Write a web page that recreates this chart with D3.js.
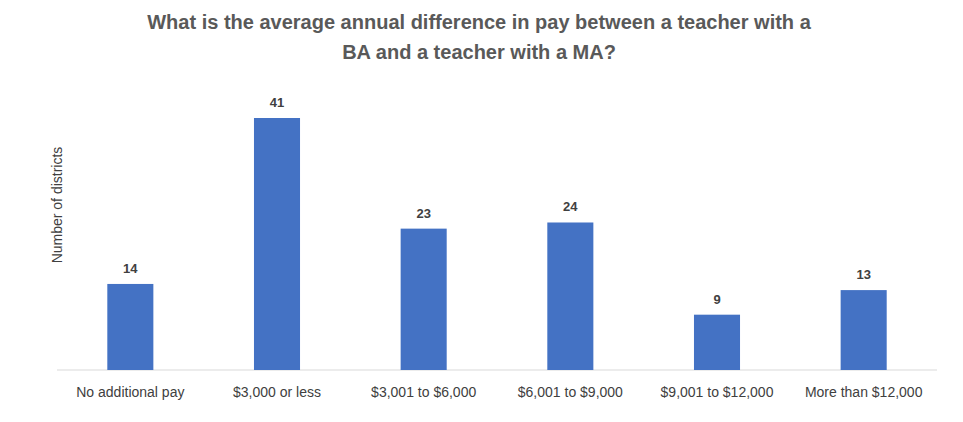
<!DOCTYPE html>
<html><head><meta charset="utf-8">
<script src="https://d3js.org/d3.v7.min.js"></script>
<style>body{margin:0;background:#fff}</style>
</head><body>
<script>
const categories = ["No additional pay","$3,000 or less","$3,001 to $6,000","$6,001 to $9,000","$9,001 to $12,000","More than $12,000"];
const values = [14,41,23,24,9,13];
const titleLines = ["What is the average annual difference in pay between a teacher with a","BA and a teacher with a MA?"];
const yLabel = "Number of districts";

const W=963,H=422;
const svg=d3.select("body").append("svg").attr("width",W).attr("height",H);
const font="'Liberation Sans', Arial, sans-serif";
const x=d3.scaleBand().domain(categories).range([57,937]).paddingInner(0.686).paddingOuter(0.343);
const y=d3.scaleLinear().domain([0,41]).range([370,118]);

svg.selectAll("text.title").data(titleLines).join("text")
  .attr("x",479).attr("y",(d,i)=>29+i*30).attr("text-anchor","middle")
  .attr("font-family",font).attr("font-weight","bold").attr("font-size",20).attr("fill","#595959").text(d=>d);

svg.append("line").attr("x1",57).attr("x2",937).attr("y1",y(0)).attr("y2",y(0)).attr("stroke","#d9d9d9");

svg.selectAll("rect").data(values).join("rect")
  .attr("x",(d,i)=>x(categories[i])).attr("width",x.bandwidth())
  .attr("y",d=>y(d)).attr("height",d=>y(0)-y(d)).attr("fill","#4472c4");

svg.selectAll("text.val").data(values).join("text")
  .attr("x",(d,i)=>x(categories[i])+x.bandwidth()/2).attr("y",d=>y(d)-11)
  .attr("text-anchor","middle").attr("font-family",font).attr("font-weight","bold")
  .attr("font-size",13).attr("fill","#404040").text(d=>d);

const ax=svg.append("g").attr("transform",`translate(0,${y(0)})`).call(d3.axisBottom(x).tickSize(0).tickPadding(17));
ax.select(".domain").remove();
ax.selectAll("text").attr("font-family",font).attr("font-size",14).attr("fill","#404040");

svg.append("text").attr("transform","translate(62,205) rotate(-90)").attr("text-anchor","middle")
  .attr("font-family",font).attr("font-size",14).attr("fill","#404040").text(yLabel);
</script>
</body></html>
